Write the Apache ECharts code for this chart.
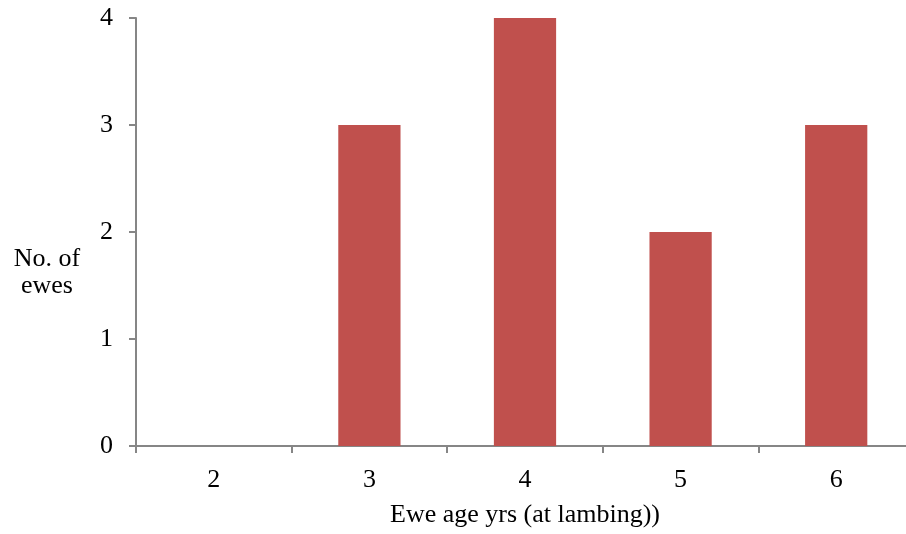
<!DOCTYPE html>
<html><head><meta charset="utf-8">
<script src="https://cdn.jsdelivr.net/npm/echarts@6/dist/echarts.min.js"></script>
<style>html,body{margin:0;padding:0;background:#fff;overflow:hidden}#c{width:914px;height:534px}</style>
</head><body><div id="c"></div>
<script>
const categories = ['2', '3', '4', '5', '6'];
const ewes = [0, 3, 4, 2, 3];
const yTicks = [0, 1, 2, 3, 4];

const font = 'Liberation Serif';
const chart = echarts.init(document.getElementById('c'), null, {renderer: 'canvas'});
chart.setOption({
  animation: false,
  backgroundColor: '#fff',
  grid: {left: 136, right: 0, top: 18, height: 428, containLabel: false},
  xAxis: {
    type: 'category', data: categories,
    axisLine: {lineStyle: {color: '#868686', width: 2}},
    axisTick: {show: true, length: 7, lineStyle: {color: '#868686', width: 2}},
    axisLabel: {color: '#000', fontFamily: font, fontSize: 26, margin: 21},
    name: 'Ewe age yrs (at lambing))', nameLocation: 'middle', nameGap: 56,
    nameTextStyle: {color: '#000', fontFamily: font, fontSize: 26}
  },
  yAxis: {
    type: 'value', min: 0, max: 4, interval: 1,
    axisLine: {show: true, lineStyle: {color: '#868686', width: 2}},
    axisTick: {show: true, length: 7, lineStyle: {color: '#868686', width: 2}},
    splitLine: {show: false},
    axisLabel: {color: '#000', fontFamily: font, fontSize: 26, margin: 23,
      formatter: v => yTicks.includes(v) ? String(v) : ''}
  },
  graphic: [{
    type: 'text', x: 47, y: 273,
    style: {text: 'No. of\newes', fill: '#000', font: '26px "Liberation Serif"', lineHeight: 27,
      align: 'center', verticalAlign: 'middle'}
  }],
  series: [{
    type: 'bar', data: ewes, barWidth: '40%',
    itemStyle: {color: '#C0504D'}
  }]
});
</script></body></html>
